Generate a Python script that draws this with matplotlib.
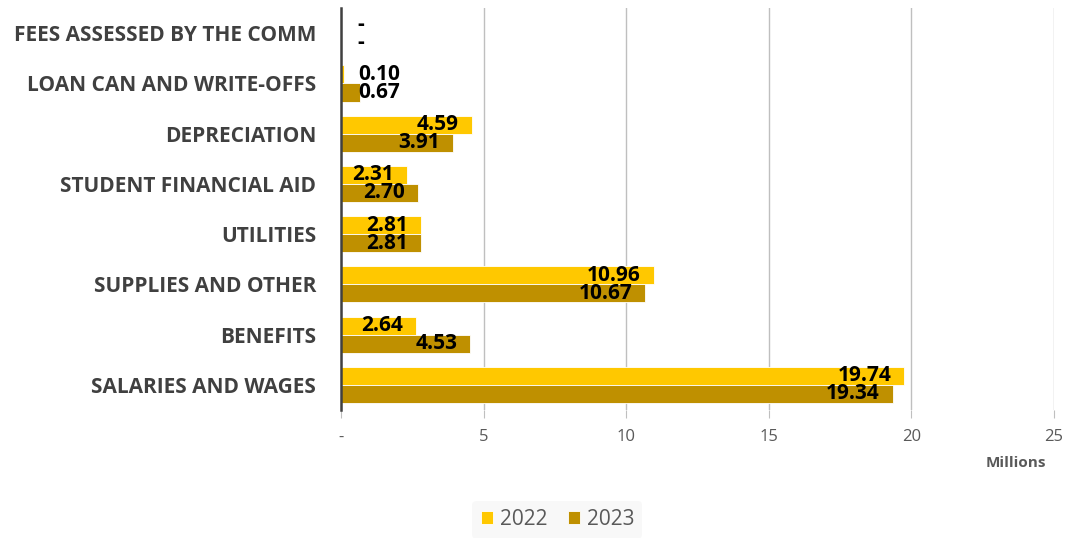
import matplotlib.pyplot as plt
import numpy as np

categories = ["FEES ASSESSED BY THE COMM", "LOAN CAN AND WRITE-OFFS", "DEPRECIATION",
              "STUDENT FINANCIAL AID", "UTILITIES", "SUPPLIES AND OTHER", "BENEFITS",
              "SALARIES AND WAGES"]
values_2022 = [0.0, 0.10, 4.59, 2.31, 2.81, 10.96, 2.64, 19.74]
values_2023 = [0.0, 0.67, 3.91, 2.70, 2.81, 10.67, 4.53, 19.34]
xticks = [0, 5, 10, 15, 20, 25]
xtick_labels = ["-", "5", "10", "15", "20", "25"]

c2022 = "#FFC800"
c2023 = "#BF9000"
text_grey = "#595959"

plt.rcParams['font.family'] = ['Open Sans', 'DejaVu Sans']

fig = plt.figure(figsize=(10.68, 5.38), dpi=100)
ax = fig.add_axes([0.3193, 0.238, 0.6676, 0.747])

y = np.arange(len(categories))
h = 0.36
ax.barh(y - h / 2, values_2022, height=h, color=c2022, edgecolor="white", linewidth=0.6, label="2022", zorder=3)
ax.barh(y + h / 2, values_2023, height=h, color=c2023, edgecolor="white", linewidth=0.6, label="2023", zorder=3)

# value labels: inside the bar end, or just right of the axis for tiny values
for offset, vals in ((-h / 2, values_2022), (h / 2, values_2023)):
    for yi, v in zip(y, vals):
        if v == 0:
            ax.text(0.7, yi + offset, "-", ha="center", va="center", fontsize=15,
                    fontweight="bold", color="black", zorder=4)
        elif v < 1:
            ax.text(0.6, yi + offset, f"{v:.2f}", ha="left", va="center", fontsize=15,
                    fontweight="bold", color="black", zorder=4)
        else:
            ax.text(v - 0.45, yi + offset, f"{v:.2f}", ha="right", va="center", fontsize=15,
                    fontweight="bold", color="black", zorder=4)

ax.set_ylim(len(categories) - 0.5, -0.5)
ax.set_xlim(0, 25)
ax.set_yticks(y)
ax.set_yticklabels(categories, fontsize=15, fontweight="bold", color="#404040")
ax.tick_params(axis="y", length=0, pad=18)
ax.set_xticks(xticks)
ax.set_xticklabels(xtick_labels, fontsize=12, color=text_grey)
ax.tick_params(axis="x", length=6, color="#BFBFBF", pad=8)

ax.grid(axis="x", color="#BFBFBF", linewidth=1, zorder=0)
for side in ("top", "right", "bottom"):
    ax.spines[side].set_visible(False)
ax.spines["left"].set_color("#404040")
ax.spines["left"].set_linewidth(1.8)
ax.spines["left"].set_zorder(5)

fig.text(0.951, 0.139, "Millions", ha="center", va="center", fontsize=11,
         fontweight="bold", color=text_grey)

leg = fig.legend(loc="center", bbox_to_anchor=(0.522, 0.034), ncol=2, frameon=True,
                 fontsize=15, handlelength=0.6, handleheight=0.6, handletextpad=0.3,
                 columnspacing=1.0, borderpad=0.4)
leg.get_frame().set_facecolor("#F7F7F7")
leg.get_frame().set_edgecolor("none")
for t in leg.get_texts():
    t.set_color(text_grey)

fig.savefig("out.png", dpi=100)
